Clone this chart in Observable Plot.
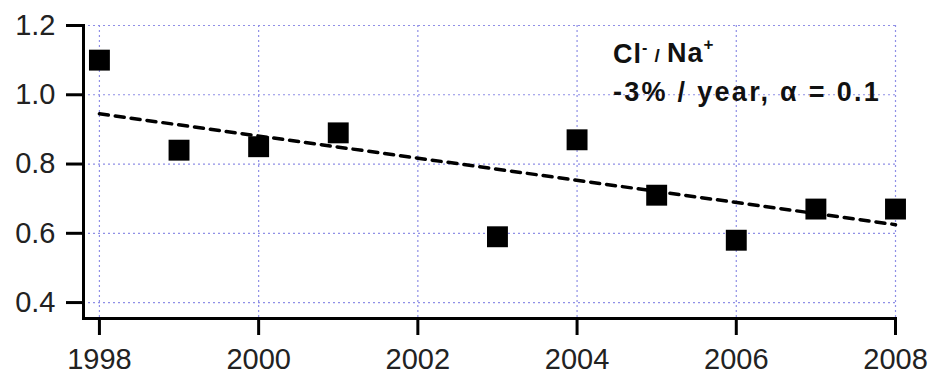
<!DOCTYPE html>
<html>
<head>
<meta charset="utf-8">
<script src="https://cdn.jsdelivr.net/npm/d3@7"></script>
<script src="https://cdn.jsdelivr.net/npm/@observablehq/plot@0.6"></script>
<style>
  html, body { margin: 0; padding: 0; background: #fff; }
  svg { display: block; }
</style>
</head>
<body>
<div id="chart"></div>
<script>
const years = [1998, 1999, 2000, 2001, 2003, 2004, 2005, 2006, 2007, 2008];
const ratios = [1.10, 0.84, 0.85, 0.89, 0.59, 0.87, 0.71, 0.58, 0.67, 0.67];
const trendYears = [1998, 2008];
const trendValues = [0.945, 0.625];
const xTicks = [1998, 2000, 2002, 2004, 2006, 2008];
const yTicks = [0.4, 0.6, 0.8, 1.0, 1.2];
const label1 = "Cl- / Na+";
const label2 = "-3% / year, \u03B1 = 0.1";

const points = years.map((y, i) => ({year: y, value: ratios[i]}));
const trend = trendYears.map((y, i) => ({year: y, value: trendValues[i]}));

const gridColor = "#8f8fe6";
const font = "Liberation Sans, Arial, Helvetica, sans-serif";

const plot = Plot.plot({
  width: 932,
  height: 378,
  marginLeft: 83,
  marginRight: 37,
  marginTop: 25,
  marginBottom: 60,
  style: {fontFamily: font, background: "#fff", color: "#000"},
  x: {domain: [1997.8, 2008], ticks: xTicks, tickFormat: d3.format("d")},
  y: {domain: [0.354, 1.2], ticks: yTicks, tickFormat: d3.format(".1f")},
  marks: [
    Plot.gridX(xTicks, {stroke: gridColor, strokeOpacity: 1, strokeWidth: 1.2, strokeDasharray: "2,3"}),
    Plot.gridY(yTicks, {stroke: gridColor, strokeOpacity: 1, strokeWidth: 1.2, strokeDasharray: "2,3"}),
    Plot.axisX(xTicks, {tickSize: 17, tickPadding: 13, strokeWidth: 3, fontSize: 29, tickFormat: d3.format("d"), label: null, fill: "#222"}),
    Plot.axisY(yTicks, {tickSize: 17, tickPadding: 11, strokeWidth: 3, fontSize: 29, tickFormat: d3.format(".1f"), label: null, fill: "#222"}),
    Plot.frame({anchor: "left", strokeWidth: 3, stroke: "#000"}),
    Plot.frame({anchor: "bottom", strokeWidth: 3, stroke: "#000"}),
    Plot.line(trend, {x: "year", y: "value", stroke: "#000", strokeWidth: 3.5, strokeDasharray: "9,7"}),
    Plot.dot(points, {x: "year", y: "value", symbol: "square", r: 11.8, fill: "#000", stroke: "none"}),
    Plot.text([label1], {x: 2004.45, y: 1.118, text: d => d, textAnchor: "start", fontSize: 27, fontWeight: "bold", fill: "#111", className: "lab1"}),
    Plot.text([label2], {x: 2004.45, y: 1.008, text: d => d, textAnchor: "start", fontSize: 27, fontWeight: "bold", fill: "#111", className: "lab2"})
  ]
});

d3.select(plot).select(".lab2 text").style("letter-spacing", "2.3px");
// Superscript charges in the first annotation line
const t = d3.select(plot).select(".lab1 text");
if (!t.empty()) {
  t.text(null).style("letter-spacing", "1px");
  t.append("tspan").text("Cl");
  t.append("tspan").attr("font-size", 16).attr("dy", "-0.6em").text("-");
  t.append("tspan").attr("font-size", 19).attr("dy", "0.5em").text(" / ");
  t.append("tspan").attr("font-size", 27).text("Na");
  t.append("tspan").attr("font-size", 17).attr("dy", "-0.75em").text("+");
}
document.getElementById("chart").appendChild(plot);
</script>
</body>
</html>
